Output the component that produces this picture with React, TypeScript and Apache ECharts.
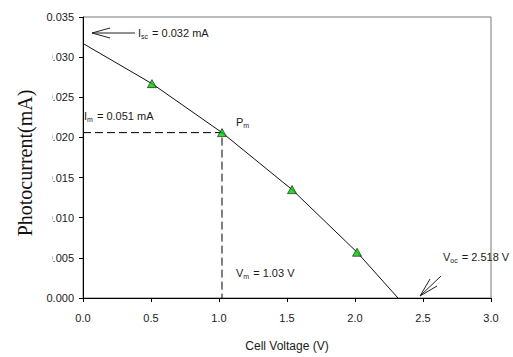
import React, { useEffect, useRef } from "react";
import * as echarts from "echarts";

// Measured points (Cell Voltage V, Photocurrent mA)
const measuredV = [0.507, 1.022, 1.537, 2.015];
const measuredI = [0.0267, 0.0206, 0.0135, 0.0057];
// Fitted curve endpoints
const curveStartV = 0;
const curveStartI = 0.0317;
const curveEndV = 2.316;
const curveEndI = 0;
// Maximum power point
const pmV = 1.022;
const pmI = 0.0206;

const xTicks = [0, 0.5, 1.0, 1.5, 2.0, 2.5, 3.0];
const yTicks = [0, 0.005, 0.01, 0.015, 0.02, 0.025, 0.03, 0.035];

const FONT = "'Liberation Sans', Arial, sans-serif";

export default function App() {
  const ref = useRef<HTMLDivElement>(null);
  useEffect(() => {
    if (!ref.current) return;
    const chart = echarts.init(ref.current, undefined, { renderer: "svg" });
    const curve = [
      [curveStartV, curveStartI],
      ...measuredV.map((v, i) => [v, measuredI[i]]),
      [curveEndV, curveEndI],
    ];
    const pts = measuredV.map((v, i) => [v, measuredI[i]]);
    const dash = [
      [xTicks[0], pmI],
      [pmV, pmI],
      [pmV, yTicks[0]],
    ];
    const txt = "#1a1a1a";
    const rich = {
      n: { fontSize: 11, fontFamily: FONT, fill: txt, lineHeight: 14, verticalAlign: "middle" },
      s: { fontSize: 7, fontFamily: FONT, fill: txt, lineHeight: 7, verticalAlign: "bottom", padding: [0, 1, 0, 0] },
    };
    const line = (x1: number, y1: number, x2: number, y2: number) => ({
      type: "line",
      shape: { x1, y1, x2, y2 },
      style: { stroke: "#222", lineWidth: 1 },
      z: 50,
    });
    chart.setOption({
      animation: false,
      backgroundColor: "#fff",
      grid: {
        left: 83,
        top: 17,
        right: 22,
        bottom: 59,
        show: true,
        borderColor: "#777",
        borderWidth: 1,
        backgroundColor: "transparent",
      },
      xAxis: {
        type: "value",
        min: 0,
        max: 3,
        interval: 0.5,
        name: "Cell Voltage (V)",
        nameLocation: "middle",
        nameGap: 42,
        nameTextStyle: { fontFamily: FONT, fontSize: 12, color: txt },
        axisLine: { show: true, lineStyle: { color: "#000", width: 1 } },
        axisTick: { show: true, inside: false, length: 4, lineStyle: { color: "#000" } },
        axisLabel: {
          margin: 14,
          fontFamily: FONT,
          fontSize: 11,
          color: txt,
          formatter: (v: number) => v.toFixed(1),
        },
        splitLine: { show: false },
      },
      yAxis: {
        type: "value",
        min: 0,
        max: 0.035,
        interval: 0.005,
        axisLine: { show: true, lineStyle: { color: "#000", width: 1 } },
        axisTick: { show: true, inside: false, length: 4, lineStyle: { color: "#000" } },
        axisLabel: {
          margin: 9,
          fontFamily: FONT,
          fontSize: 11,
          color: txt,
          formatter: (v: number) => v.toFixed(3),
        },
        splitLine: { show: false },
      },
      series: [
        {
          type: "line",
          data: dash,
          symbol: "none",
          lineStyle: { color: "#000", width: 1, type: [8, 4] },
          z: 2,
        },
        {
          type: "line",
          data: curve,
          symbol: "none",
          lineStyle: { color: "#111", width: 1 },
          z: 3,
        },
        {
          type: "scatter",
          data: pts,
          symbol: "triangle",
          symbolSize: [9, 8],
          itemStyle: { color: "#00d000", borderColor: "#111", borderWidth: 0.8 },
          z: 4,
        },
      ],
      graphic: [
        {
          type: "rect",
          shape: { x: 0, y: 38, width: 52, height: 242 },
          style: { fill: "#fff" },
          z: 90,
        },
        {
          type: "text",
          x: 25,
          y: 163,
          rotation: Math.PI / 2,
          style: {
            text: "Photocurrent(mA)",
            fontFamily: "'Liberation Serif', 'Times New Roman', serif",
            fontSize: 20,
            fill: "#111",
            align: "center",
            verticalAlign: "middle",
          },
          z: 95,
        },
        // Isc arrow
        line(92, 33, 135, 33),
        line(92, 33, 110, 28),
        line(92, 33, 110, 38),
        {
          type: "text",
          x: 138,
          y: 33,
          style: { text: "{n|I}{s|sc}{n| = 0.032 mA}", rich, verticalAlign: "middle" },
          z: 50,
        },
        {
          type: "text",
          x: 84,
          y: 116,
          style: { text: "{n|I}{s|m}{n| = 0.051 mA}", rich, verticalAlign: "middle" },
          z: 50,
        },
        {
          type: "text",
          x: 236,
          y: 122,
          style: { text: "{n|P}{s|m}", rich, verticalAlign: "middle" },
          z: 50,
        },
        {
          type: "text",
          x: 236,
          y: 273,
          style: { text: "{n|V}{s|m}{n| = 1.03 V}", rich, verticalAlign: "middle" },
          z: 50,
        },
        {
          type: "text",
          x: 443,
          y: 257,
          style: { text: "{n|V}{s|oc}{n| = 2.518 V}", rich, verticalAlign: "middle" },
          z: 50,
        },
        // Voc arrow
        line(420, 296, 441, 276),
        line(420, 296, 430, 279),
        line(420, 296, 437, 286),
      ],
    });
    return () => chart.dispose();
  }, []);
  return (
    <div
      ref={ref}
      style={{ width: 513, height: 357, position: "absolute", left: 0, top: 0 }}
    />
  );
}
